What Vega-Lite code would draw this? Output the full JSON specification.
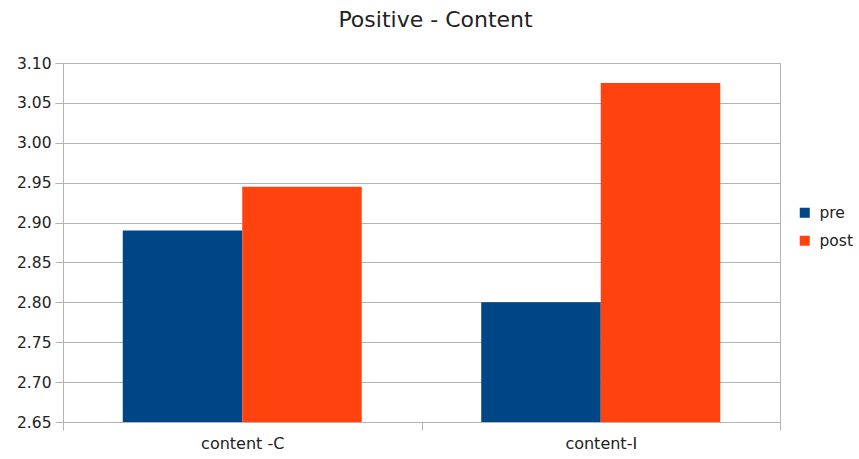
{
  "$schema": "https://vega.github.io/schema/vega-lite/v6.json",
  "autosize": {"type": "none"},
  "width": 717,
  "height": 359,
  "padding": {"left": 63, "top": 63, "right": 79, "bottom": 37},
  "background": "white",
  "config": {
    "font": "DejaVu Sans",
    "view": {"stroke": "#b3b3b3", "strokeWidth": 1}
  },
  "title": {
    "text": "Positive - Content",
    "font": "DejaVu Sans",
    "fontSize": 22,
    "fontWeight": "normal",
    "color": "#222222",
    "anchor": "middle",
    "frame": "group",
    "dx": 14,
    "offset": 24
  },
  "data": {
    "values": [
      {"group": "content -C", "phase": "pre", "score": 2.89},
      {"group": "content -C", "phase": "post", "score": 2.945},
      {"group": "content-I", "phase": "pre", "score": 2.8},
      {"group": "content-I", "phase": "post", "score": 3.075}
    ]
  },
  "mark": {"type": "bar"},
  "encoding": {
    "x": {
      "field": "group",
      "type": "nominal",
      "sort": ["content -C", "content-I"],
      "scale": {"paddingInner": 0, "paddingOuter": 0},
      "axis": {
        "title": null,
        "labelAngle": 0,
        "labelFont": "DejaVu Sans",
        "labelFontSize": 16,
        "labelColor": "#222222",
        "labelPadding": 5,
        "tickBand": "extent",
        "tickSize": 8,
        "tickColor": "#b3b3b3",
        "domainColor": "#b3b3b3",
        "grid": false
      }
    },
    "xOffset": {
      "field": "phase",
      "type": "nominal",
      "sort": ["pre", "post"],
      "scale": {"paddingInner": 0, "paddingOuter": 0.5}
    },
    "y": {
      "field": "score",
      "type": "quantitative",
      "scale": {"domain": [2.65, 3.1], "nice": false, "zero": false},
      "axis": {
        "title": null,
        "values": [2.65, 2.7, 2.75, 2.8, 2.85, 2.9, 2.95, 3.0, 3.05, 3.1],
        "format": ".2f",
        "labelFont": "DejaVu Sans",
        "labelFontSize": 15.5,
        "labelColor": "#222222",
        "labelPadding": 4,
        "tickSize": 8,
        "tickColor": "#b3b3b3",
        "domainColor": "#b3b3b3",
        "gridColor": "#b3b3b3",
        "grid": true
      }
    },
    "y2": {"datum": 2.65},
    "color": {
      "field": "phase",
      "type": "nominal",
      "sort": ["pre", "post"],
      "scale": {"domain": ["pre", "post"], "range": ["#004586", "#ff420e"]},
      "legend": {
        "title": null,
        "orient": "none",
        "legendX": 734,
        "legendY": 142,
        "padding": 0,
        "symbolType": "square",
        "symbolSize": 100,
        "symbolStrokeWidth": 0,
        "labelFont": "DejaVu Sans",
        "labelFontSize": 15.5,
        "labelColor": "#222222",
        "labelOffset": 7,
        "rowPadding": 11
      }
    }
  }
}
